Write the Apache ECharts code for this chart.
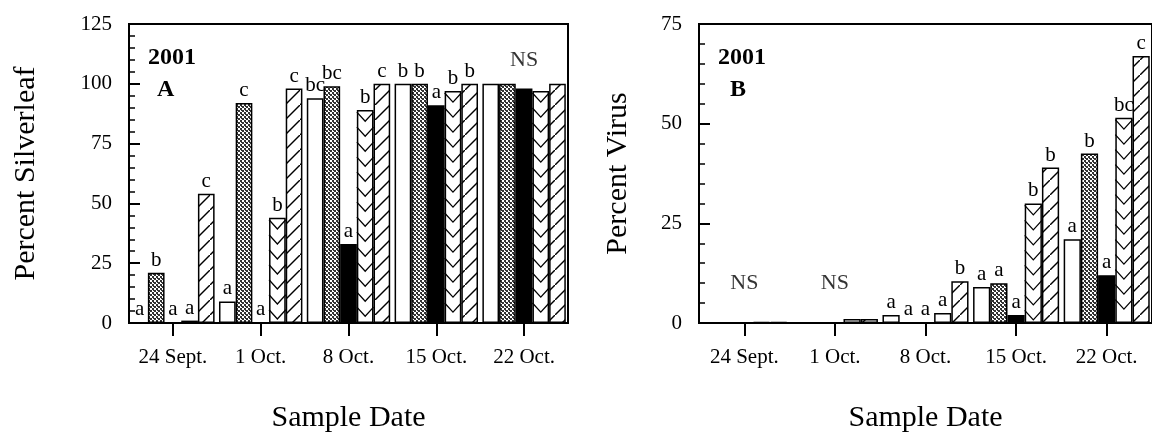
<!DOCTYPE html>
<html>
<head>
<meta charset="utf-8">
<script src="https://cdn.jsdelivr.net/npm/echarts@6/dist/echarts.min.js"></script>
<style>
  html, body { margin: 0; padding: 0; background: #fff; }
  #chart { width: 1152px; height: 443px; }
</style>
</head>
<body>
<div id="chart"></div>
<script>
const categories = ['24 Sept.', '1 Oct.', '8 Oct.', '15 Oct.', '22 Oct.']

// panel A – percent silverleaf
const openA = [0, 9, 94, 100, 100]
const stippleA = [21, 92, 99, 100, 100]
const solidA = [0, 0, 33, 91, 98]
const chevronA = [1, 44, 89, 97, 97]
const hatchA = [54, 98, 100, 100, 100]
const lettersA = [
  ['a', 'a', 'bc', 'b', ''],
  ['b', 'c', 'bc', 'b', ''],
  ['a', 'a', 'a', 'a', ''],
  ['a', 'b', 'b', 'b', ''],
  ['c', 'c', 'c', 'b', ''],
]
const nsA = [[4, 110]]

// panel B – percent virus
const openB = [0, 0, 2, 9, 21]
const stippleB = [0, 0, 0, 10, 42.5]
const solidB = [0, 0, 0, 2, 12]
const chevronB = [0.3, 1, 2.5, 30, 51.5]
const hatchB = [0.3, 1, 10.5, 39, 67]
const lettersB = [
  ['', '', 'a', 'a', 'a'],
  ['', '', 'a', 'a', 'b'],
  ['', '', 'a', 'a', 'a'],
  ['', '', 'a', 'b', 'bc'],
  ['', '', 'b', 'b', 'c'],
]
const nsB = [[0, 10], [1, 10]]

const FONT = 'Liberation Serif'
const GAP = 0.05

function pattern(size, draw) {
  const c = document.createElement('canvas')
  c.width = c.height = size
  const ctx = c.getContext('2d')
  draw(ctx, size)
  return { image: c, repeat: 'repeat' }
}

const stipple = pattern(4, (ctx) => {
  ctx.fillStyle = '#fff'
  ctx.fillRect(0, 0, 4, 4)
  ctx.fillStyle = '#333'
  ctx.fillRect(0, 0, 2, 2)
  ctx.fillRect(2, 2, 2, 2)
  ctx.fillRect(1, 2, 1, 1)
})

const hatch = pattern(15, (ctx, s) => {
  ctx.fillStyle = '#fff'
  ctx.fillRect(0, 0, s, s)
  ctx.strokeStyle = '#000'
  ctx.lineWidth = 1.4
  ctx.beginPath()
  ctx.moveTo(-2, s + 2)
  ctx.lineTo(s + 2, -2)
  ctx.stroke()
})

const fills = ['#fff', stipple, '#000', '#fff', hatch]

function chevronItem(params, api) {
  const i = api.value(0)
  const v = api.value(1)
  const band = api.size([1, 0])[0]
  const groupW = band * (1 - GAP)
  const barW = groupW / 5
  const top = api.coord([i, v])
  const base = api.coord([i, 0])
  const x0 = top[0] - groupW / 2 + 3 * barW
  const x1 = x0 + barW
  const xm = (x0 + x1) / 2
  const depth = barW * 0.55
  const children = []
  for (let y = top[1] + 2; y + depth <= base[1] - 1; y += 15) {
    children.push({
      type: 'polyline',
      shape: { points: [[x0, y], [xm, y + depth], [x1, y]] },
      style: { stroke: '#000', lineWidth: 1.3, fill: 'none' },
    })
  }
  return { type: 'group', children }
}

function panelSeries(values, letters, ns, idx) {
  const out = values.map((vals, k) => ({
    type: 'bar',
    xAxisIndex: idx,
    yAxisIndex: idx,
    data: vals,
    barGap: '0%',
    barCategoryGap: GAP * 100 + '%',
    itemStyle: { color: fills[k], borderColor: '#000', borderWidth: 1.5 },
    label: {
      show: true,
      position: 'top',
      distance: 2,
      color: '#000',
      fontFamily: FONT,
      fontSize: 21,
      formatter: (p) => letters[k][p.dataIndex],
    },
  }))
  out.push({
    type: 'custom',
    xAxisIndex: idx,
    yAxisIndex: idx,
    data: values[3].map((v, i) => [i, v]),
    renderItem: chevronItem,
    z: 5,
  })
  out.push({
    type: 'scatter',
    xAxisIndex: idx,
    yAxisIndex: idx,
    data: ns,
    symbolSize: 1,
    itemStyle: { color: 'transparent' },
    label: {
      show: true,
      position: 'inside',
      formatter: 'NS',
      color: '#000',
      fontFamily: FONT,
      fontSize: 22,
    },
  })
  return out
}

function xAxis(idx) {
  return {
    type: 'category',
    gridIndex: idx,
    data: categories,
    name: 'Sample Date',
    nameLocation: 'middle',
    nameGap: 80,
    nameTextStyle: { color: '#000', fontFamily: FONT, fontSize: 30 },
    axisLine: { show: true, lineStyle: { color: '#000', width: 2 } },
    axisTick: {
      show: true,
      inside: false,
      alignWithLabel: true,
      interval: 0,
      length: 13,
      lineStyle: { color: '#000', width: 2 },
    },
    axisLabel: { interval: 0, color: '#000', fontFamily: FONT, fontSize: 21, margin: 24 },
    z: 10,
  }
}

function yAxis(idx, max, name, gap) {
  return {
    type: 'value',
    gridIndex: idx,
    min: 0,
    max: max,
    interval: 25,
    name: name,
    nameLocation: 'middle',
    nameGap: gap,
    nameTextStyle: { color: '#000', fontFamily: FONT, fontSize: 30 },
    axisLine: { show: true, lineStyle: { color: '#000', width: 2 } },
    axisTick: { show: true, inside: true, length: 11, lineStyle: { color: '#000', width: 2 } },
    minorTick: { show: true, splitNumber: 5, length: 6, lineStyle: { color: '#000', width: 1.5 } },
    splitLine: { show: false },
    axisLabel: { color: '#000', fontFamily: FONT, fontSize: 21, margin: 17 },
  }
}

function tag(x, y, text) {
  return {
    type: 'text',
    left: x,
    top: y,
    style: { text, fill: '#000', font: 'bold 24px "Liberation Serif"' },
  }
}

const chart = echarts.init(document.getElementById('chart'), null, { renderer: 'canvas' })
chart.setOption({
  animation: false,
  backgroundColor: '#fff',
  grid: [
    { left: 129, right: 584, top: 24, bottom: 120, show: true, borderColor: '#000', borderWidth: 2 },
    { left: 699, right: -7, top: 24, bottom: 120, show: true, borderColor: '#000', borderWidth: 2 },
  ],
  xAxis: [xAxis(0), xAxis(1)],
  yAxis: [yAxis(0, 125, 'Percent Silverleaf', 88), yAxis(1, 75, 'Percent Virus', 66)],
  graphic: [tag(148, 46, '2001'), tag(157, 78, 'A'), tag(718, 46, '2001'), tag(730, 78, 'B')],
  series: [
    ...panelSeries([openA, stippleA, solidA, chevronA, hatchA], lettersA, nsA, 0),
    ...panelSeries([openB, stippleB, solidB, chevronB, hatchB], lettersB, nsB, 1),
  ],
})
</script>
</body>
</html>
